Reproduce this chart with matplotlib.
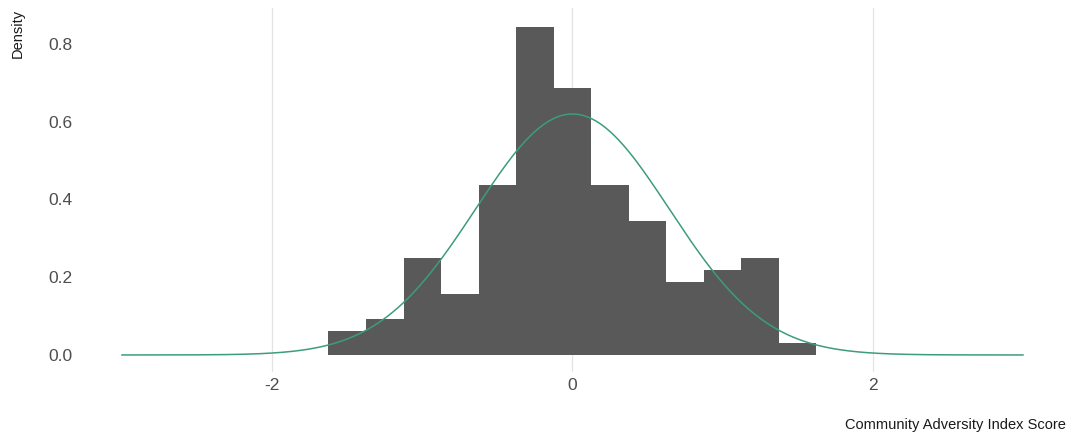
import numpy as np
import matplotlib.pyplot as plt

plt.rcParams['font.family'] = ['Liberation Sans', 'DejaVu Sans']

# Histogram of index scores (counts per 0.25-wide bin, n = 128)
bin_edges = [-1.625, -1.375, -1.125, -0.875, -0.625, -0.375, -0.125,
             0.125, 0.375, 0.625, 0.875, 1.125, 1.375, 1.625]
counts = [2, 3, 8, 5, 14, 27, 22, 14, 11, 6, 7, 8, 1]

# Fitted normal curve parameters
fit_mean = 0.0
fit_sd = 0.644
curve_x = np.linspace(-3, 3, 400)

n_total = sum(counts)
widths = np.diff(bin_edges)
density = np.array(counts) / (n_total * widths)
curve_y = np.exp(-0.5 * ((curve_x - fit_mean) / fit_sd) ** 2) / (fit_sd * np.sqrt(2 * np.pi))

fig = plt.figure(figsize=(10.68, 4.34), dpi=100)
ax = fig.add_axes([0.072, 0.144, 0.928, 0.838])

ax.bar(bin_edges[:-1], density, width=widths, align='edge',
       color='#595959', edgecolor='none', zorder=2)
ax.plot(curve_x, curve_y, color='#3d9c80', linewidth=1.1, zorder=3)

ax.set_xlim(-3.3, 3.3)
ax.set_ylim(-0.0425, 0.8925)
ax.set_xticks([-2, 0, 2])
ax.set_xticklabels(['-2', '0', '2'])
ax.set_yticks([0.0, 0.2, 0.4, 0.6, 0.8])
ax.set_yticklabels(['0.0', '0.2', '0.4', '0.6', '0.8'])
ax.tick_params(length=0, labelsize=12.5, labelcolor='#4d4d4d')
ax.tick_params(axis='y', pad=3)
ax.tick_params(axis='x', pad=5)
ax.grid(axis='x', color='#e3e3e3', linewidth=0.9, zorder=0)
ax.set_axisbelow(True)
for s in ax.spines.values():
    s.set_visible(False)

fig.text(0.010, 0.979, 'Density', rotation=90, ha='left', va='top',
         fontsize=10.5, color='#1a1a1a')
fig.text(0.998, 0.021, 'Community Adversity Index Score', ha='right', va='center',
         fontsize=10.5, color='#1a1a1a')

fig.savefig('out.png', dpi=100)
